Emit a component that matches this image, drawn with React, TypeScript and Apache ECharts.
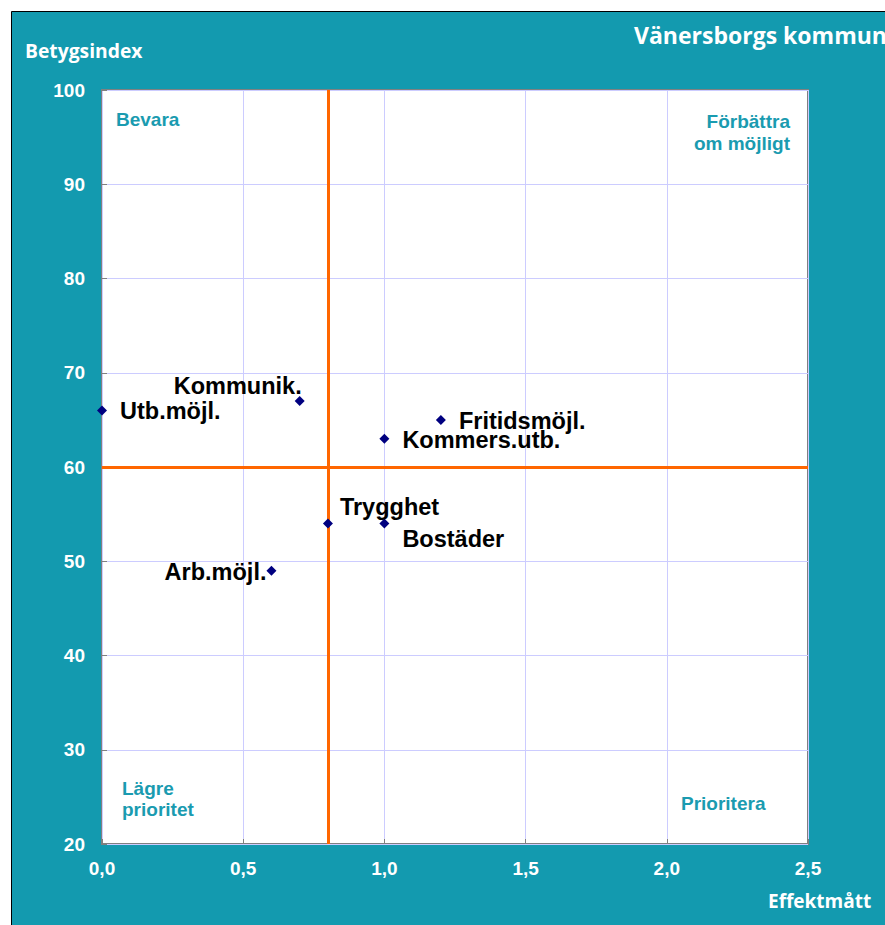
import React, { useEffect, useRef } from "react";
import * as echarts from "echarts";

const categories = ["Utb.möjl.", "Kommunik.", "Fritidsmöjl.", "Kommers.utb.", "Trygghet", "Bostäder", "Arb.möjl."];
const effektValues = [0.0, 0.7, 1.2, 1.0, 0.8, 1.0, 0.6];
const betygValues = [66, 67, 65, 63, 54, 54, 49];
const xRefLine = 0.8;
const yRefLine = 60;
const quadrantBevara = "Bevara";
const quadrantForbattra = ["Förbättra", "om möjligt"];
const quadrantLagre = ["Lägre", "prioritet"];
const quadrantPrioritera = "Prioritera";
const title = "Vänersborgs kommun";
const yName = "Betygsindex";
const xName = "Effektmått";

// label placement (style only)
const labelPlacement: Record<string, { align: string; dx: number; dy: number }> = {
  "Utb.möjl.": { align: "left", dx: 18, dy: 1 },
  "Kommunik.": { align: "right", dx: 2, dy: -15 },
  "Fritidsmöjl.": { align: "left", dx: 18, dy: 1 },
  "Kommers.utb.": { align: "left", dx: 18, dy: 1 },
  "Trygghet": { align: "left", dx: 12, dy: -17 },
  "Bostäder": { align: "left", dx: 18, dy: 15 },
  "Arb.möjl.": { align: "right", dx: -5, dy: 1 },
};

const TEAL = "#139AAF";
const QTEXT = "#1A9BB0";
const ARIAL = "'Liberation Sans', Arial, sans-serif";
const HUMAN = "'Open Sans', 'Noto Sans', sans-serif";

export default function App() {
  const ref = useRef<HTMLDivElement>(null);
  useEffect(() => {
    document.body.style.margin = "0";
    if (!ref.current) return;
    const chart = echarts.init(ref.current, null, { renderer: "svg" });
    const data = categories.map((name, i) => {
      const p = labelPlacement[name];
      return {
        name,
        value: [effektValues[i], betygValues[i]],
        label: {
          show: true,
          position: "inside",
          align: p.align,
          verticalAlign: "middle",
          offset: [p.dx, p.dy],
          formatter: name,
          color: "#000000",
          opacity: 1,
          textBorderWidth: 0,
        },
      };
    });
    const option: any = {
      animation: false,
      backgroundColor: "#ffffff",
      graphic: [
        {
          type: "rect",
          shape: { x: 11.5, y: 11.5, width: 900, height: 950 },
          style: { fill: TEAL, stroke: "#000", lineWidth: 1 },
          z: -10,
          silent: true,
        },
        { type: "text", x: 25, y: 50, style: { text: yName, fill: "#fff", font: `bold 19.3px ${HUMAN}`, textVerticalAlign: "middle" } },
        { type: "text", x: 634, y: 35, style: { text: title, fill: "#fff", font: `bold 23px ${HUMAN}`, textVerticalAlign: "middle" } },
        { type: "text", x: 768, y: 901, style: { text: xName, fill: "#fff", font: `bold 19px ${HUMAN}`, textVerticalAlign: "middle" } },
        { type: "text", x: 116, y: 119, z: 10, style: { text: quadrantBevara, fill: QTEXT, font: `bold 19px ${ARIAL}`, textVerticalAlign: "middle" } },
        { type: "text", x: 790, y: 121, z: 10, style: { text: quadrantForbattra[0], fill: QTEXT, font: `bold 19px ${ARIAL}`, textAlign: "right", textVerticalAlign: "middle" } },
        { type: "text", x: 790, y: 143, z: 10, style: { text: quadrantForbattra[1], fill: QTEXT, font: `bold 19px ${ARIAL}`, textAlign: "right", textVerticalAlign: "middle" } },
        { type: "text", x: 122, y: 788, z: 10, style: { text: quadrantLagre[0], fill: QTEXT, font: `bold 19px ${ARIAL}`, textVerticalAlign: "middle" } },
        { type: "text", x: 122, y: 809, z: 10, style: { text: quadrantLagre[1], fill: QTEXT, font: `bold 19px ${ARIAL}`, textVerticalAlign: "middle" } },
        { type: "text", x: 681, y: 803, z: 10, style: { text: quadrantPrioritera, fill: QTEXT, font: `bold 19px ${ARIAL}`, textVerticalAlign: "middle" } },
      ],
      grid: {
        left: 102,
        top: 90,
        width: 706,
        height: 754,
        show: true,
        backgroundColor: "#ffffff",
        borderColor: "#808080",
        borderWidth: 2,
        z: 0,
      },
      xAxis: {
        type: "value",
        min: 0,
        max: 2.5,
        interval: 0.5,
        axisLine: { show: false },
        axisTick: { show: true, inside: true, length: 5, lineStyle: { color: "#808080" } },
        splitLine: { show: true, lineStyle: { color: "#ccccff", width: 1 } },
        axisLabel: {
          color: "#fff",
          fontFamily: ARIAL,
          fontWeight: "bold",
          fontSize: 19,
          margin: 15,
          formatter: (v: number) => v.toFixed(1).replace(".", ","),
        },
      },
      yAxis: {
        type: "value",
        min: 20,
        max: 100,
        interval: 10,
        axisLine: { show: false },
        axisTick: { show: true, inside: true, length: 5, lineStyle: { color: "#808080" } },
        splitLine: { show: true, lineStyle: { color: "#ccccff", width: 1 } },
        axisLabel: {
          color: "#fff",
          fontFamily: ARIAL,
          fontWeight: "bold",
          fontSize: 19,
          margin: 17,
        },
      },
      series: [
        {
          type: "scatter",
          symbol: "diamond",
          symbolSize: 10,
          itemStyle: { color: "#000080", opacity: 1 },
          label: {
            color: "#000000",
            fontFamily: ARIAL,
            fontWeight: "bold",
            fontSize: 23.5,
          },
          data,
          z: 5,
          markLine: {
            silent: true,
            symbol: ["none", "none"],
            label: { show: false },
            lineStyle: { color: "#FF6600", width: 3, type: "solid", opacity: 1 },
            data: [{ xAxis: xRefLine }, { yAxis: yRefLine }],
            z: 3,
          },
        },
      ],
    };
    chart.setOption(option);
    return () => chart.dispose();
  }, []);
  return <div ref={ref} style={{ width: 885, height: 925 }} />;
}
